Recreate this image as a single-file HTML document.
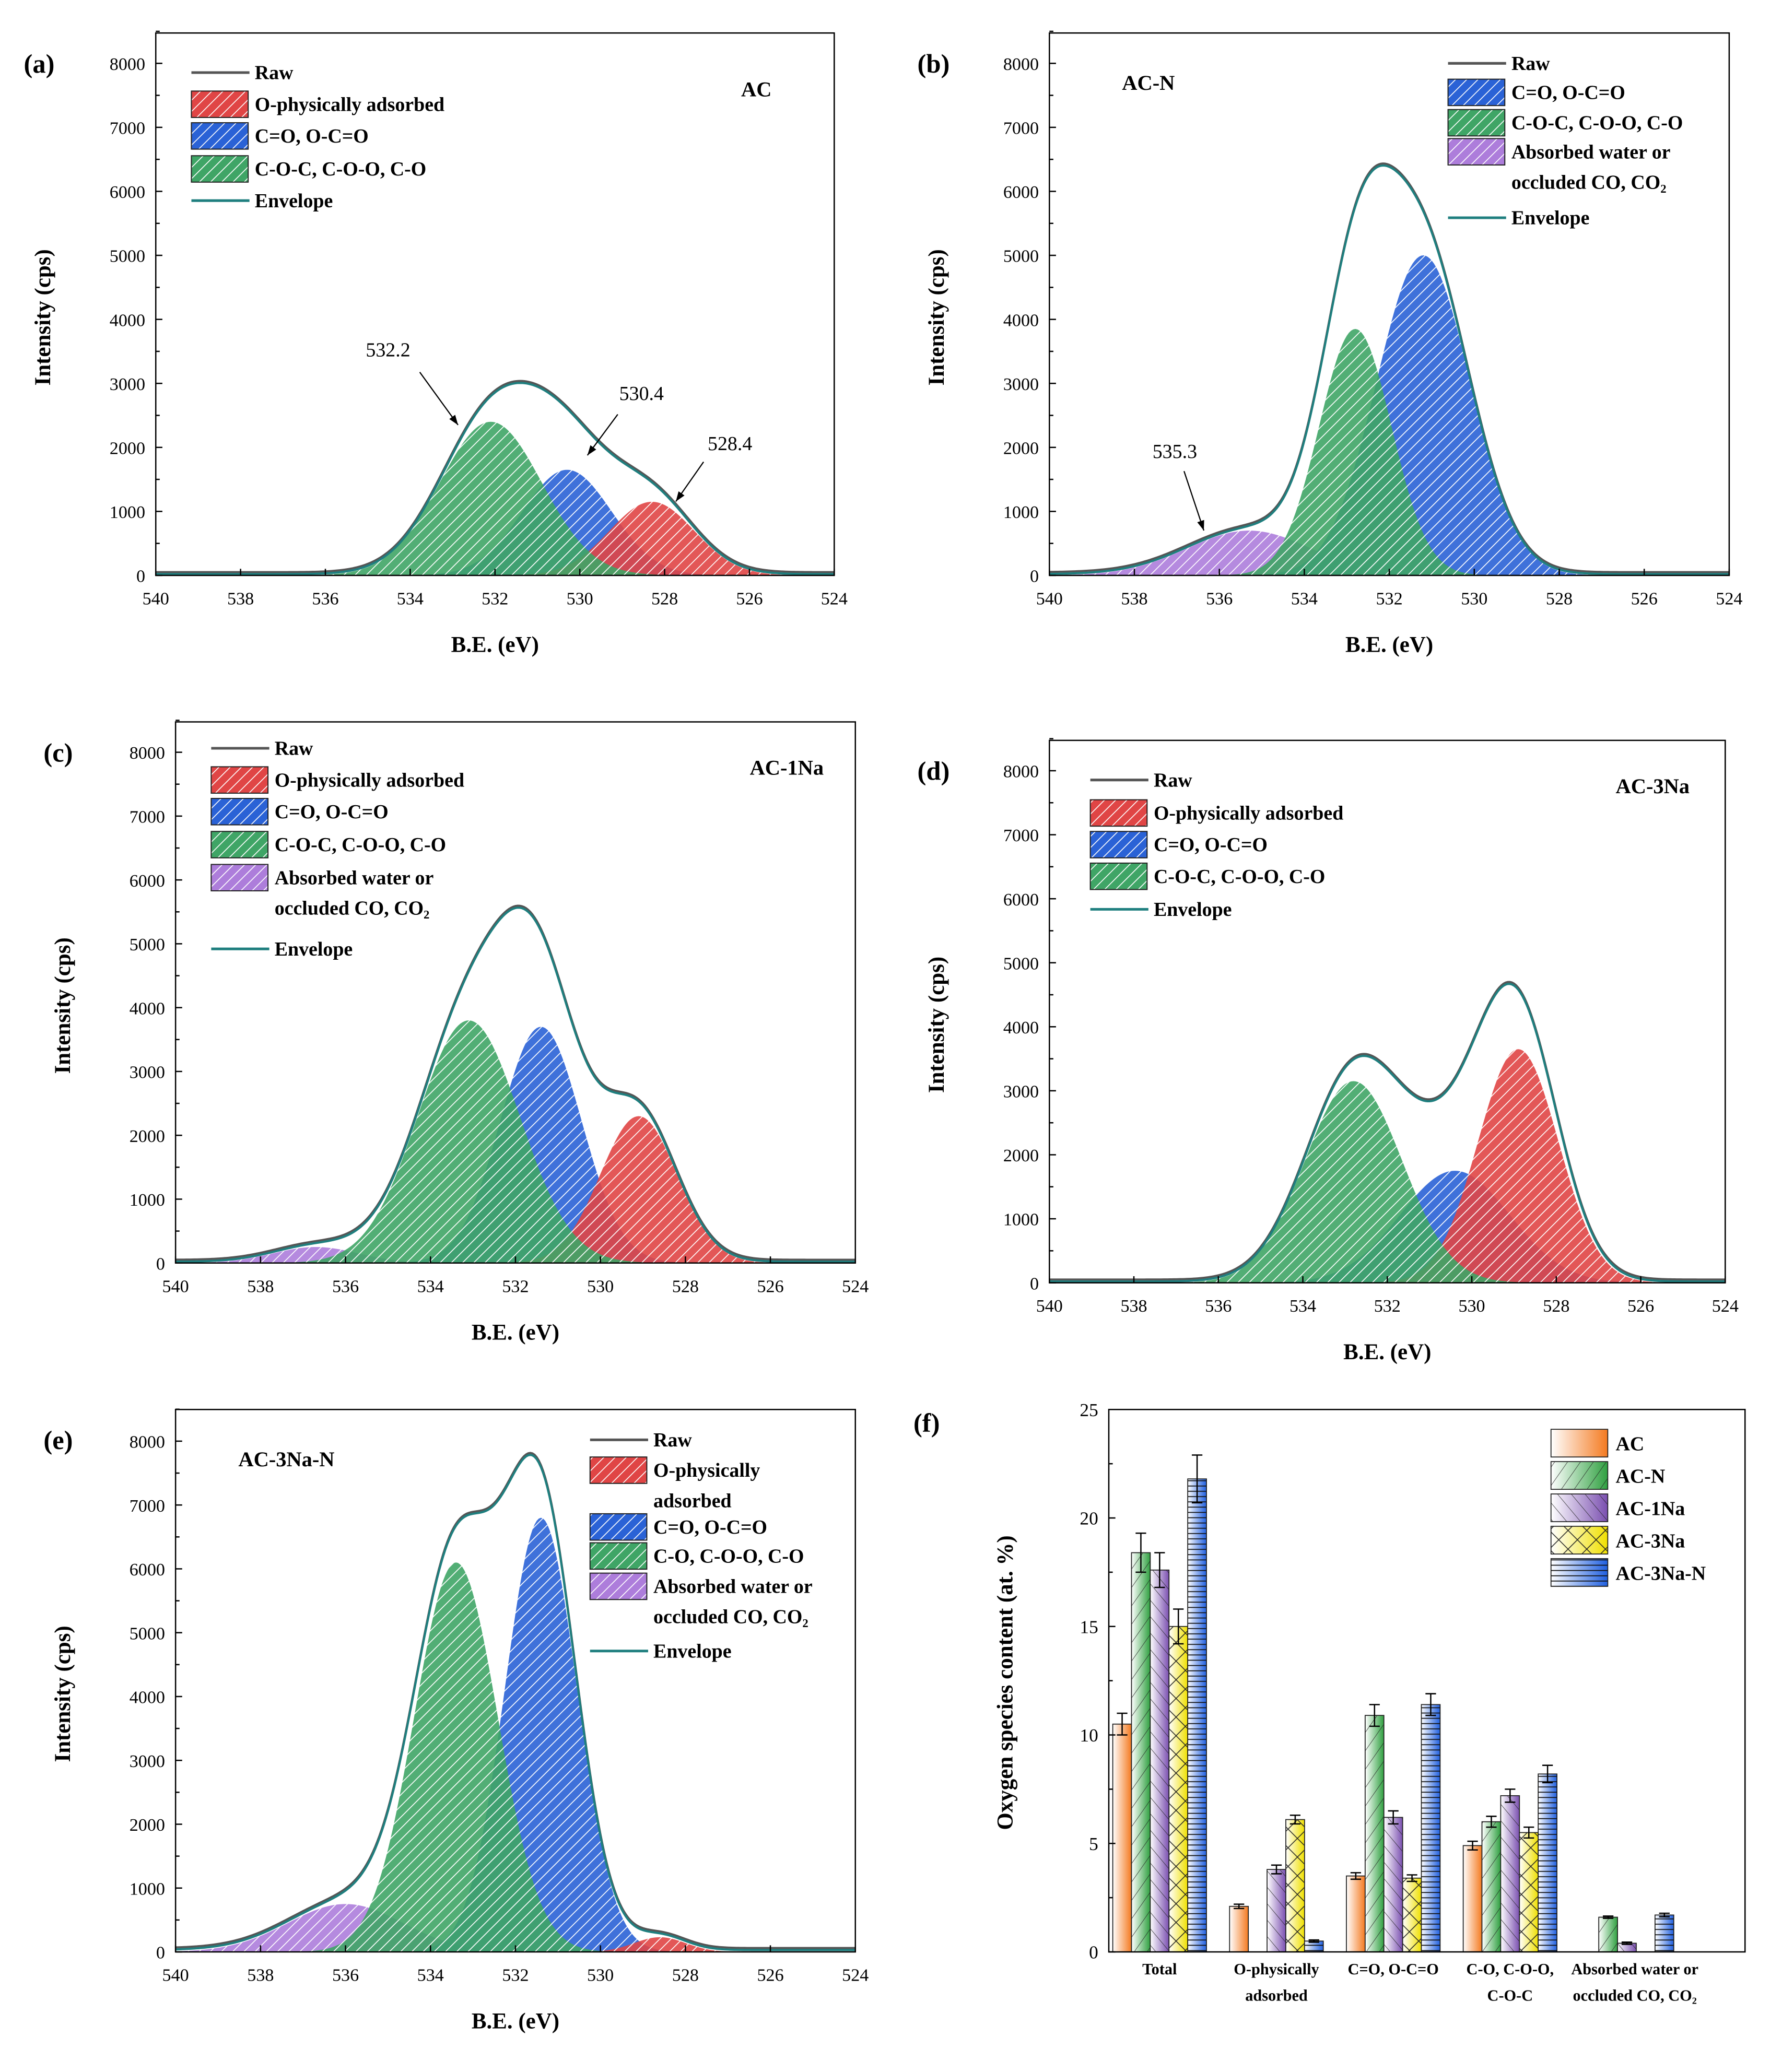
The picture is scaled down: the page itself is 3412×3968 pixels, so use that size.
<!DOCTYPE html>
<html><head><meta charset="utf-8"><style>
html,body{margin:0;padding:0;background:#fff;}
svg{display:block;}
text{font-family:"Liberation Serif",serif;}
</style></head><body>
<svg id="fig" width="3412" height="3968" viewBox="0 0 1350 1570" xmlns="http://www.w3.org/2000/svg">
<defs>
<pattern id="hr" width="6" height="6" patternUnits="userSpaceOnUse" patternTransform="rotate(45)"><rect width="6" height="6" fill="#e04545"/><line x1="0" y1="0" x2="0" y2="6" stroke="#fff" stroke-width="1.3"/></pattern>
<pattern id="hb" width="6" height="6" patternUnits="userSpaceOnUse" patternTransform="rotate(45)"><rect width="6" height="6" fill="#2a62d6"/><line x1="0" y1="0" x2="0" y2="6" stroke="#fff" stroke-width="1.3"/></pattern>
<pattern id="hg" width="6" height="6" patternUnits="userSpaceOnUse" patternTransform="rotate(45)"><rect width="6" height="6" fill="#3fa566"/><line x1="0" y1="0" x2="0" y2="6" stroke="#fff" stroke-width="1.3"/></pattern>
<pattern id="hp" width="6" height="6" patternUnits="userSpaceOnUse" patternTransform="rotate(45)"><rect width="6" height="6" fill="#ad7ddb"/><line x1="0" y1="0" x2="0" y2="6" stroke="#fff" stroke-width="1.3"/></pattern>
<linearGradient id="gAC" x1="0" x2="1"><stop offset="0" stop-color="#fff"/><stop offset="1" stop-color="#f47a20"/></linearGradient>
<linearGradient id="gN" x1="0" x2="1"><stop offset="0" stop-color="#fff"/><stop offset="1" stop-color="#2fa040"/></linearGradient>
<linearGradient id="g1" x1="0" x2="1"><stop offset="0" stop-color="#fff"/><stop offset="1" stop-color="#7a4fb0"/></linearGradient>
<linearGradient id="g3" x1="0" x2="1"><stop offset="0" stop-color="#fff"/><stop offset="1" stop-color="#f0e000"/></linearGradient>
<linearGradient id="g3N" x1="0" x2="1"><stop offset="0" stop-color="#fff"/><stop offset="1" stop-color="#1f5fe0"/></linearGradient>
<pattern id="pN" width="8" height="8" patternUnits="userSpaceOnUse" patternTransform="rotate(35)"><line x1="0" y1="0" x2="0" y2="8" stroke="#222" stroke-width="0.6"/></pattern>
<pattern id="p1" width="8" height="8" patternUnits="userSpaceOnUse" patternTransform="rotate(-40)"><line x1="0" y1="0" x2="0" y2="8" stroke="#222" stroke-width="0.6"/></pattern>
<pattern id="p3" width="10" height="10" patternUnits="userSpaceOnUse" patternTransform="rotate(45)"><rect width="10" height="10" fill="none" stroke="#222" stroke-width="0.6"/></pattern>
<pattern id="p3N" width="4" height="4" patternUnits="userSpaceOnUse"><line x1="0" y1="2" x2="4" y2="2" stroke="#111" stroke-width="0.7"/></pattern>
</defs>
</svg>
<script>
// ---- XPS panel data ----
const xTicks = [540,538,536,534,532,530,528,526,524];
const yTicks = [0,1000,2000,3000,4000,5000,6000,7000,8000];
// (a) AC
const aCenters = [528.3, 530.3, 532.1];
const aAmps = [1150, 1650, 2400];
const aWidths = [1.0, 1.05, 1.2];
const aFills = ['hr','hb','hg'];
// (b) AC-N
const bCenters = [535.3, 532.8, 531.2];
const bAmps = [700, 3850, 5000];
const bWidths = [1.45, 0.85, 1.1];
const bFills = ['hp','hg','hb'];
// (c) AC-1Na
const cCenters = [536.7, 533.1, 531.4, 529.1];
const cAmps = [250, 3800, 3700, 2300];
const cWidths = [1.0, 1.2, 0.95, 0.9];
const cFills = ['hp','hg','hb','hr'];
// (d) AC-3Na
const dCenters = [532.8, 530.4, 528.9];
const dAmps = [3150, 1750, 3650];
const dWidths = [1.15, 1.3, 0.95];
const dFills = ['hg','hb','hr'];
// (e) AC-3Na-N
const eCenters = [536.0, 533.4, 531.4, 528.6];
const eAmps = [750, 6100, 6800, 230];
const eWidths = [1.35, 0.98, 0.85, 0.6];
const eFills = ['hp','hg','hb','hr'];
// ---- bar chart data (f) ----
const fCategories = ['Total','O-physically adsorbed','C=O, O-C=O','C-O, C-O-O, C-O-C','Absorbed water or occluded CO, CO2'];
const fSeries = ['AC','AC-N','AC-1Na','AC-3Na','AC-3Na-N'];
const fAC = [10.5, 2.1, 3.5, 4.9, 0];
const fN = [18.4, 0, 10.9, 6.0, 1.6];
const f1Na = [17.6, 3.8, 6.2, 7.2, 0.4];
const f3Na = [15.0, 6.1, 3.4, 5.5, 0];
const f3NaN = [21.8, 0.5, 11.4, 8.2, 1.7];
const fErrAC = [0.5, 0.1, 0.15, 0.2, 0];
const fErrN = [0.9, 0, 0.5, 0.25, 0.05];
const fErr1Na = [0.8, 0.2, 0.3, 0.3, 0.05];
const fErr3Na = [0.8, 0.2, 0.15, 0.25, 0];
const fErr3NaN = [1.1, 0.05, 0.5, 0.4, 0.08];
const fTicks = [0,5,10,15,20,25];

const svg = document.getElementById('fig');
const NS = 'http://www.w3.org/2000/svg';
function mk(tag, attrs, parent){const e=document.createElementNS(NS,tag);for(const k in attrs)e.setAttribute(k,attrs[k]);(parent||svg).appendChild(e);return e;}
function txt(s, x, y, size, opts, parent){const t=mk('text',Object.assign({x:x,y:y,'font-size':size},opts||{}),parent);t.textContent=s;return t;}
function gauss(x,c,a,w){return a*Math.exp(-((x-c)*(x-c))/(2*w*w));}
const drawRank = {hp:0, hb:1, hr:2, hg:3};

function xpsPanel(id, fr, centers, amps, widths, fills, base, legend, sample, samplePos, annots){
  const g = mk('g',{});
  
  
  const X = v => fr.x0 + (540 - v)/16*(fr.x1-fr.x0);
  const Y = v => fr.yb - v/8000*(fr.yb-fr.y8);
  const order = centers.map((c,i)=>i).sort((p,q)=>drawRank[fills[p]]-drawRank[fills[q]]);
  order.forEach(i=>{
    const c=centers[i];
    let d='M'+X(540)+' '+Y(0);
    for(let v=540; v>=524; v-=0.05){d+=' L'+X(v).toFixed(2)+' '+Y(gauss(v,c,amps[i],widths[i])).toFixed(2);}
    d+=' L'+X(524)+' '+Y(0)+' Z';
    const p = mk('path',{d:d,fill:'url(#'+fills[i]+')',stroke:'none','fill-opacity':0.9},g);
    
    
  });
  let d='';
  for(let v=540; v>=524; v-=0.05){let s=base;centers.forEach((c,i)=>s+=gauss(v,c,amps[i],widths[i]));d+=(d?' L':'M')+X(v).toFixed(2)+' '+Y(s).toFixed(2);}
  const raw = mk('path',{d:d,fill:'none',stroke:'#555','stroke-width':1.6,transform:'translate(0,-1.5)'},g);
  
  
  const env = mk('path',{d:d,fill:'none',stroke:'#1f7f7f','stroke-width':1.6},g);
  
  
  const fb = mk('rect',{x:fr.x0,y:fr.top,width:fr.x1-fr.x0,height:fr.yb-fr.top,fill:'none',stroke:'#000','stroke-width':1},g);
  
  
  xTicks.forEach(v=>{
    mk('line',{x1:X(v),x2:X(v),y1:fr.yb,y2:fr.yb-5,stroke:'#000'},g);
    const t = txt(String(v), X(v), fr.yb+22, 13.5, {'text-anchor':'middle'}, g);
    
    
  });
  yTicks.forEach(v=>{
    mk('line',{x1:fr.x0,x2:fr.x0+5,y1:Y(v),y2:Y(v),stroke:'#000'},g);
    mk('line',{x1:fr.x0,x2:fr.x0+3,y1:Y(v+500),y2:Y(v+500),stroke:'#000'},g);
    const t = txt(String(v), fr.x0-8, Y(v)+5, 13.5, {'text-anchor':'end'}, g);
    
    
  });
  const xt = txt('B.E. (eV)', (fr.x0+fr.x1)/2, fr.yb+58, 17, {'text-anchor':'middle','font-weight':'bold'}, g);
  
  
  const cy=(fr.top+fr.yb)/2+10, cx=fr.x0-80;
  const yt = txt('Intensity (cps)', cx, cy, 17, {'text-anchor':'middle','font-weight':'bold',transform:'rotate(-90 '+cx+' '+cy+')'}, g);
  
  
  const pl = txt('('+id+')', fr.x0-100, fr.top+30, 20, {'font-weight':'bold'}, g);
  
  
  const sl = txt(sample, samplePos[0], samplePos[1], 16, {'font-weight':'bold','text-anchor':'middle'}, g);
  
  
  legend.items.forEach((it,i)=>{
    const y = legend.ys[i];
    if(it.type==='line'){
      mk('line',{x1:legend.x,x2:legend.x+44,y1:y,y2:y,stroke:it.c,'stroke-width':2},g);
    } else {
      mk('rect',{x:legend.x,y:y-10,width:43,height:20,fill:'url(#'+it.c+')',stroke:'#222','stroke-width':0.8},g);
    }
    it.lines.forEach((ln,j)=>{
      const t = txt(ln, legend.x+48, y+5+j*23, 15, {'font-weight':'bold'}, g);
      
      
    });
  });
  (annots||[]).forEach(a=>{
    const t = txt(a.t, a.tx, a.ty, 15, {'text-anchor':'middle'}, g);
    
    
    mk('line',{x1:a.x1,y1:a.y1,x2:a.x2,y2:a.y2,stroke:'#000','stroke-width':0.9},g);
    const ang=Math.atan2(a.y2-a.y1,a.x2-a.x1),L=8;
    mk('path',{d:'M'+a.x2+' '+a.y2+' L'+(a.x2-L*Math.cos(ang-0.35))+' '+(a.y2-L*Math.sin(ang-0.35))+' L'+(a.x2-L*Math.cos(ang+0.35))+' '+(a.y2-L*Math.sin(ang+0.35))+'Z',fill:'#000'},g);
  });
}
const R={type:'line',c:'#555',lines:['Raw']}, E={type:'line',c:'#1f7f7f',lines:['Envelope']};
const Lr={type:'box',c:'hr',lines:['O-physically adsorbed']}, Lb={type:'box',c:'hb',lines:['C=O, O-C=O']};
const Lg={type:'box',c:'hg',lines:['C-O-C, C-O-O, C-O']}, Lp={type:'box',c:'hp',lines:['Absorbed water or','occluded CO, CO\u2082']};

xpsPanel('a',{x0:118,x1:632,top:25,yb:436,y8:48},aCenters,aAmps,aWidths,aFills,20,
 {x:145,ys:[55,79,103,128,152],items:[R,Lr,Lb,Lg,E]},'AC',[573,73],
 [{t:'532.2',tx:294,ty:270,x1:318,y1:282,x2:347,y2:322},{t:'530.4',tx:486,ty:303,x1:468,y1:314,x2:445,y2:345},{t:'528.4',tx:553,ty:341,x1:533,y1:350,x2:512,y2:380}]);
xpsPanel('b',{x0:795,x1:1310,top:25,yb:436,y8:48},bCenters,bAmps,bWidths,bFills,20,
 {x:1097,ys:[48,70,93,115,165],items:[R,Lb,Lg,Lp,E]},'AC-N',[870,68],
 [{t:'535.3',tx:890,ty:347,x1:897,y1:357,x2:912,y2:402}]);
xpsPanel('c',{x0:133,x1:648,top:547,yb:957,y8:570},cCenters,cAmps,cWidths,cFills,20,
 {x:160,ys:[567,591,615,640,665,719],items:[R,Lr,Lb,Lg,Lp,E]},'AC-1Na',[596,587],[]);
xpsPanel('d',{x0:795,x1:1307,top:561,yb:972,y8:584},dCenters,dAmps,dWidths,dFills,20,
 {x:826,ys:[591,616,640,664,689],items:[R,Lr,Lb,Lg,E]},'AC-3Na',[1252,601],[]);
xpsPanel('e',{x0:133,x1:648,top:1068,yb:1479,y8:1092},eCenters,eAmps,eWidths,eFills,30,
 {x:447,ys:[1091,1114,1157,1179,1202,1251],items:[R,{type:'box',c:'hr',lines:['O-physically','adsorbed']},Lb,{type:'box',c:'hg',lines:['C-O, C-O-O, C-O']},{type:'box',c:'hp',lines:[' Absorbed water or','occluded CO, CO\u2082']},E]},'AC-3Na-N',[217,1111],[]);

// ---- panel f ----
(function(){
  const g = mk('g',{});
  
  
  const x0=840,x1=1322,top=1068,yb=1479;
  const Y = v => yb - v/25*(yb-top);
  const groupX = i => 843 + i*88.5;
  const bw=14.2;
  const series=[fAC,fN,f1Na,f3Na,f3NaN], errs=[fErrAC,fErrN,fErr1Na,fErr3Na,fErr3NaN];
  const grads=['gAC','gN','g1','g3','g3N'], pats=[null,'pN','p1','p3','p3N'];
  series.forEach((s,k)=>{
    s.forEach((v,i)=>{
      if(v<=0) return;
      const x=groupX(i)+k*bw, y=Y(v);
      const r = mk('rect',{x:x,y:y,width:bw,height:yb-y,fill:'url(#'+grads[k]+')',stroke:'#222','stroke-width':0.7},g);
      
      
      if(pats[k]) mk('rect',{x:x,y:y,width:bw,height:yb-y,fill:'url(#'+pats[k]+')',stroke:'none'},g);
      const e=errs[k][i];
      if(e>0){const cx=x+bw/2;
        mk('line',{x1:cx,x2:cx,y1:Y(v+e),y2:Y(v-e),stroke:'#000','stroke-width':1},g);
        mk('line',{x1:cx-4,x2:cx+4,y1:Y(v+e),y2:Y(v+e),stroke:'#000','stroke-width':1},g);
        mk('line',{x1:cx-4,x2:cx+4,y1:Y(v-e),y2:Y(v-e),stroke:'#000','stroke-width':1},g);}
    });
  });
  const fr = mk('rect',{x:x0,y:top,width:x1-x0,height:yb-top,fill:'none',stroke:'#000','stroke-width':1},g);
  
  
  fTicks.forEach(v=>{
    mk('line',{x1:x0,x2:x0+5,y1:Y(v),y2:Y(v),stroke:'#000'},g);
    if(v<25) mk('line',{x1:x0,x2:x0+3,y1:Y(v+2.5),y2:Y(v+2.5),stroke:'#000'},g);
    const t = txt(String(v), x0-8, Y(v)+5, 14, {'text-anchor':'end'}, g);
    
    
  });
  const catLines=[['Total'],['O-physically','adsorbed'],['C=O, O-C=O'],['C-O, C-O-O,','C-O-C'],['Absorbed water or','occluded CO, CO\u2082']];
  catLines.forEach((ls,i)=>{ls.forEach((l,j)=>{
    const t = txt(l, groupX(i)+bw*2.5+(i==4?6:0), yb+17+j*20, 12, {'text-anchor':'middle','font-weight':'bold'}, g);
    
    
  });});
  const cx=767,cy=1275;
  const yt = txt('Oxygen species content (at. %)', cx, cy, 17, {'text-anchor':'middle','font-weight':'bold',transform:'rotate(-90 '+cx+' '+cy+')'}, g);
  
  
  const pl = txt('(f)', 692, 1085, 20, {'font-weight':'bold'}, g);
  
  
  fSeries.forEach((s,k)=>{
    const y=1093+k*24.5;
    mk('rect',{x:1175,y:y-10,width:43,height:21,fill:'url(#'+grads[k]+')',stroke:'#222','stroke-width':0.7},g);
    if(pats[k]) mk('rect',{x:1175,y:y-10,width:43,height:21,fill:'url(#'+pats[k]+')'},g);
    const t = txt(s, 1224, y+6, 15, {'font-weight':'bold'}, g);
    
    
  });
})();
</script>
</body></html>
